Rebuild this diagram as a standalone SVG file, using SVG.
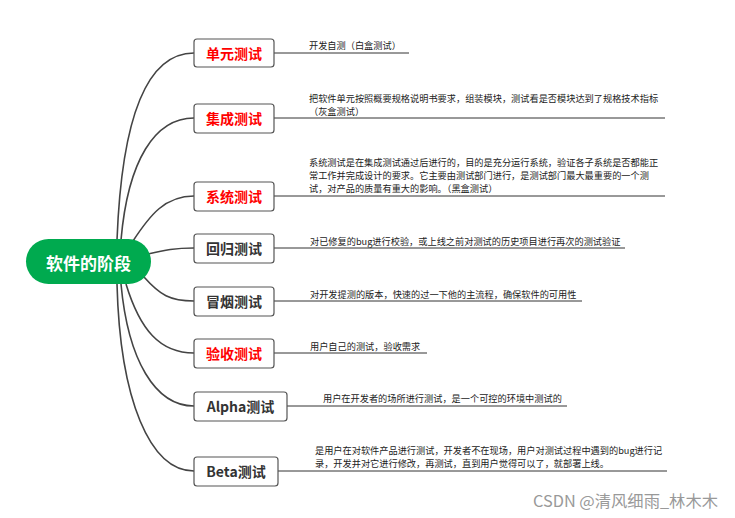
<svg xmlns="http://www.w3.org/2000/svg" width="735" height="518" viewBox="0 0 735 518">
<style>
.box{fill:#fff;stroke:#555;stroke-width:1.2}
.lbl{font-family:"Noto Sans CJK SC","Liberation Sans",sans-serif;font-size:14px;font-weight:bold;text-anchor:middle;dominant-baseline:central}
.red{fill:#ff0000}
.dark{fill:#333}
.conn{fill:none;stroke:#444;stroke-width:1.6}
.line{fill:none;stroke:#333;stroke-width:1}
.desc{font-family:"Noto Sans CJK SC","Liberation Sans",sans-serif;font-size:9.2px;fill:#222;dominant-baseline:central}
</style>
<rect width="735" height="518" fill="#fff"/>
<g id="connectors">
<path class="conn" d="M117,240 C122,110 150,53 194,53"/>
<path class="conn" d="M121,240 C128,160 155,118 194,118"/>
<path class="conn" d="M133,241 C150,215 165,196 194,196"/>
<path class="conn" d="M148,254 C165,250 175,248 194,248"/>
<path class="conn" d="M144,277 C160,295 170,301 194,301"/>
<path class="conn" d="M126,284 C140,330 160,353 194,353"/>
<path class="conn" d="M121,284 C128,360 155,406 194,406"/>
<path class="conn" d="M117,284 C120,400 150,471 194,471"/>
<path class="line" d="M274,53 H409"/>
<path class="line" d="M274,118 H665"/>
<path class="line" d="M274,196 H665"/>
<path class="line" d="M274,248 H625"/>
<path class="line" d="M274,301 H582"/>
<path class="line" d="M274,353 H427"/>
<path class="line" d="M287,406 H567"/>
<path class="line" d="M278,471 H667"/>
</g>
<g id="root">
<rect x="26" y="239" width="125" height="45" rx="22.5" fill="#00aa4f"/>
<text x="88.5" y="262" class="lbl" style="font-size:17px;fill:#fff">软件的阶段</text>
</g>
<g id="n1">
<rect class="box" x="194" y="39" width="80" height="28" rx="3"/>
<text class="lbl red" x="234" y="53">单元测试</text>
<text class="desc" x="309" y="45">开发自测（白盒测试）</text>
</g>
<g id="n2">
<rect class="box" x="194" y="104" width="80" height="29" rx="3"/>
<text class="lbl red" x="234" y="118">集成测试</text>
<text class="desc" x="309" y="98">把软件单元按照概要规格说明书要求，组装模块，测试看是否模块达到了规格技术指标</text>
<text class="desc" x="309" y="111">（灰盒测试）</text>
</g>
<g id="n3">
<rect class="box" x="194" y="182" width="80" height="29" rx="3"/>
<text class="lbl red" x="234" y="196">系统测试</text>
<text class="desc" x="309" y="162">系统测试是在集成测试通过后进行的，目的是充分运行系统，验证各子系统是否都能正</text>
<text class="desc" x="309" y="175">常工作并完成设计的要求。它主要由测试部门进行，是测试部门最大最重要的一个测</text>
<text class="desc" x="309" y="188">试，对产品的质量有重大的影响。（黑盒测试）</text>
</g>
<g id="n4">
<rect class="box" x="194" y="234" width="80" height="29" rx="3"/>
<text class="lbl dark" x="234" y="248">回归测试</text>
<text class="desc" x="310" y="241">对已修复的bug进行校验，或上线之前对测试的历史项目进行再次的测试验证</text>
</g>
<g id="n5">
<rect class="box" x="194" y="287" width="80" height="29" rx="3"/>
<text class="lbl dark" x="234" y="301">冒烟测试</text>
<text class="desc" x="310" y="294">对开发提测的版本，快速的过一下他的主流程，确保软件的可用性</text>
</g>
<g id="n6">
<rect class="box" x="194" y="339" width="80" height="29" rx="3"/>
<text class="lbl red" x="234" y="353">验收测试</text>
<text class="desc" x="310" y="346">用户自己的测试，验收需求</text>
</g>
<g id="n7">
<rect class="box" x="194" y="392" width="93" height="29" rx="3"/>
<text class="lbl dark" x="240.5" y="406">Alpha测试</text>
<text class="desc" x="323" y="398">用户在开发者的场所进行测试，是一个可控的环境中测试的</text>
</g>
<g id="n8">
<rect class="box" x="194" y="457" width="84" height="29" rx="3"/>
<text class="lbl dark" x="236" y="471">Beta测试</text>
<text class="desc" x="315" y="450">是用户在对软件产品进行测试，开发者不在现场，用户对测试过程中遇到的bug进行记</text>
<text class="desc" x="315" y="463">录，开发并对它进行修改，再测试，直到用户觉得可以了，就部署上线。</text>
</g>
<text x="533" y="500" textLength="185" lengthAdjust="spacingAndGlyphs" style="font-family:'Noto Sans CJK SC','Liberation Sans',sans-serif;font-size:15.5px;fill:#999;dominant-baseline:central">CSDN @清风细雨_林木木</text>
</svg>
